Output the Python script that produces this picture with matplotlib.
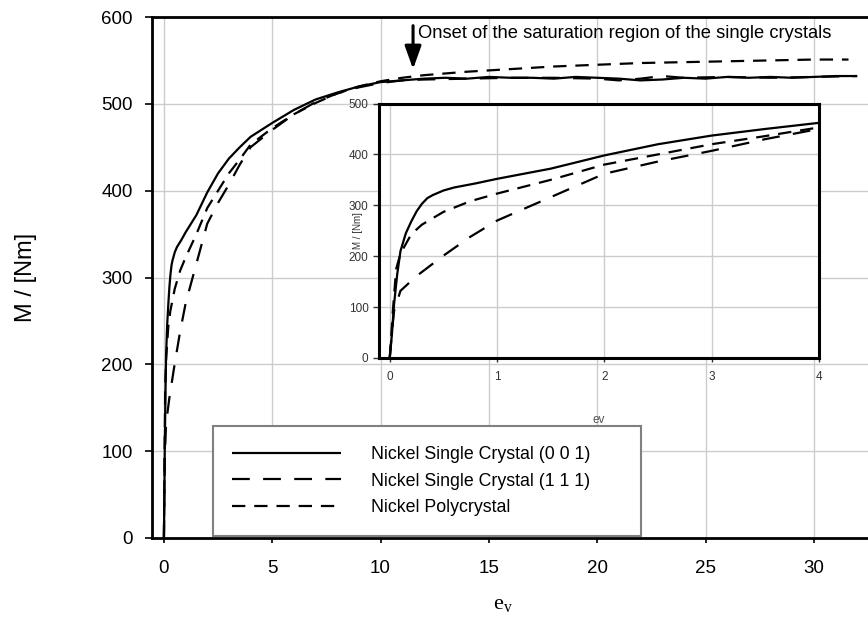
import matplotlib
matplotlib.use("Agg")
import matplotlib.pyplot as plt

plt.rcParams['font.family'] = ['Liberation Sans', 'DejaVu Sans']

# ---------------- data ----------------
ev_001 = [0, 0.02, 0.04, 0.07, 0.1, 0.15, 0.2, 0.25, 0.3, 0.35, 0.4, 0.5, 0.6, 0.8,
          1.0, 1.25, 1.5, 1.75, 2.0, 2.5, 3.0, 3.5, 4.0, 5, 6, 7, 8, 9, 10, 11, 12,
          13, 14, 15, 16, 17, 18, 19, 20, 21, 22, 23, 24, 25, 26, 27, 28, 29, 30, 31, 32]
M_001 = [0, 45, 105, 165, 210, 245, 268, 288, 303, 314, 320, 329, 335, 343,
         352, 362, 372, 385, 398, 420, 437, 450, 462, 478, 493, 505, 513, 520, 525, 527, 529,
         530, 529, 531, 530, 530, 529, 531, 530, 529, 527, 528, 530, 529, 531, 530, 531, 530, 531, 532, 532]

ev_111 = [0, 0.02, 0.04, 0.1, 0.25, 0.5, 0.75, 1.0, 1.5, 2.0, 2.5, 3.0, 3.5, 4.0,
          5, 6, 7, 8, 9, 10, 11, 12, 14, 16, 18, 20, 21, 22, 23, 24, 26, 28, 30, 32]
M_111 = [0, 50, 92, 132, 161, 201, 238, 270, 316, 362, 386, 407, 430, 450,
         470, 488, 502, 512, 519, 524, 527, 528, 529, 530, 530, 529, 527, 529, 532, 530, 531, 530, 531, 532]

ev_poly = [0, 0.03, 0.06, 0.1, 0.2, 0.3, 0.5, 0.75, 1.0, 1.5, 2.0, 2.5, 3.0, 3.5, 4.0,
           5, 6, 7, 8, 9, 10, 11, 12, 14, 16, 18, 20, 22, 24, 26, 28, 30, 31.6]
M_poly = [0, 95, 175, 205, 243, 262, 287, 308, 323, 350, 380, 400, 420, 436, 453,
          472, 488, 501, 512, 520, 526, 530, 533, 537, 540, 543, 545, 547, 548, 549, 550, 551, 551]

labels = ["Nickel Single Crystal (0 0 1)", "Nickel Single Crystal (1 1 1)", "Nickel Polycrystal"]
main_xticks = [0, 5, 10, 15, 20, 25, 30]
main_yticks = [0, 100, 200, 300, 400, 500, 600]
inset_xticks = [0, 1, 2, 3, 4]
inset_yticks = [0, 100, 200, 300, 400, 500]
annot_text = "Onset of the saturation region of the single crystals"

# ---------------- figure ----------------
W, H = 868, 637
fig = plt.figure(figsize=(W / 100, H / 100), dpi=100)

def fx(px):
    return px / W

def fy(py):
    return 1 - py / H

L, R, T, B = 152, 868, 17, 538
ax = fig.add_axes([fx(L), fy(B), fx(R) - fx(L), fy(T) - fy(B)])
ax.set_xlim(-0.55, 32.5)
ax.set_ylim(0, 600)
ax.set_xticks(main_xticks)
ax.set_yticks(main_yticks)
ax.grid(True, color='#cccccc', lw=1.0)
ax.set_axisbelow(True)
for s in ['left', 'bottom', 'top']:
    ax.spines[s].set_linewidth(2.0)
ax.spines['right'].set_visible(False)
ax.tick_params(axis='y', direction='out', length=5, width=1.2, labelsize=13.5, pad=9, colors='black')
ax.tick_params(axis='x', direction='out', length=3.5, width=1.2, labelsize=13.5, pad=12, colors='black')

lw = 1.6
style_001 = dict(color='black', lw=lw, solid_capstyle='butt')
ax.plot(ev_001, M_001, label=labels[0], **style_001)
l111, = ax.plot(ev_111, M_111, color='black', lw=lw, label=labels[1])
l111.set_dashes((8, 6))
lpoly, = ax.plot(ev_poly, M_poly, color='black', lw=lw, label=labels[2])
lpoly.set_dashes((6, 4))

ax.set_ylabel("M / [Nm]", fontsize=17)
ax.yaxis.set_label_coords(-0.161, 0.5)
ax.set_xlabel(r"$\mathregular{e_v}$", fontsize=16, family=['Liberation Serif'])
ax.xaxis.set_label_coords(0.49, -0.109)

# annotation arrow
ax.annotate("", xy=(11.5, 540), xytext=(11.5, 590),
            arrowprops=dict(arrowstyle='-|>,head_width=0.5,head_length=1.4', color='black', lw=2.2,
                            shrinkA=0, shrinkB=0))
ax.text(11.75, 581, annot_text, fontsize=13.2, va='center', ha='left')

leg = ax.legend(loc='lower left', bbox_to_anchor=(0.085, 0.004, 0.598, 0.2), mode='expand',
                fontsize=12.8, frameon=True, fancybox=False, framealpha=1, edgecolor='#808080',
                handlelength=6.1, handletextpad=1.7, labelspacing=0.55, borderpad=1.1,
                borderaxespad=0)
leg.get_frame().set_linewidth(1.5)

# ---------------- inset ----------------
iL, iR, iT, iB = 379, 819, 103.5, 358
axi = fig.add_axes([fx(iL), fy(iB), fx(iR) - fx(iL), fy(iT) - fy(iB)])
axi.set_xlim(-0.1, 4.0)
axi.set_ylim(0, 500)
axi.set_xticks(inset_xticks)
axi.set_yticks(inset_yticks)
axi.grid(True, color='#cccccc', lw=1.0)
axi.set_axisbelow(True)
for s in axi.spines.values():
    s.set_linewidth(2.2)
axi.tick_params(axis='y', direction='out', length=4.5, width=1.0, labelsize=8.5, pad=3,
                colors='#333333')
axi.tick_params(axis='x', direction='out', length=3, width=1.0, labelsize=8.5, pad=6,
                colors='#333333')
axi.plot(ev_001, M_001, **style_001)
a, = axi.plot(ev_111, M_111, color='black', lw=lw)
a.set_dashes((8, 6))
b, = axi.plot(ev_poly, M_poly, color='black', lw=lw)
b.set_dashes((6, 4))
axi.set_ylabel("M / [Nm]", fontsize=7, color='#333333')
axi.yaxis.set_label_coords(-0.036, 0.5)
axi.set_xlabel("ev", fontsize=8.5, color='#555555')
axi.xaxis.set_label_coords(0.5, -0.22)

fig.savefig("out.png", dpi=100)
